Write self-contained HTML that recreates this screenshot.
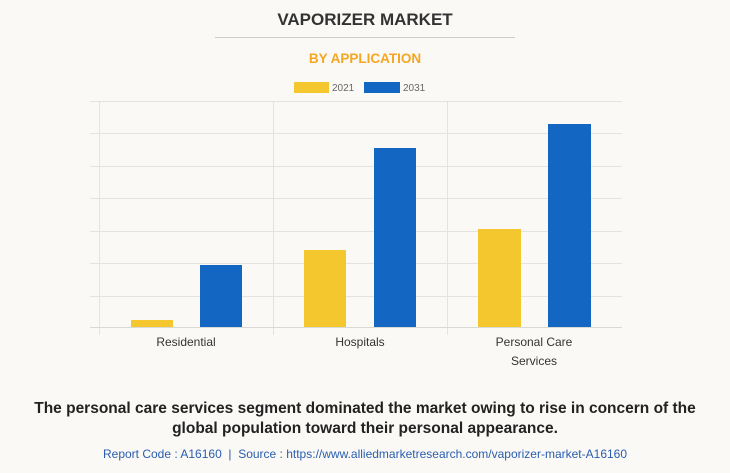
<!DOCTYPE html>
<html><head><style>
body{margin:0;width:730px;height:473px;background:#faf9f5;font-family:"Liberation Sans",Arial,sans-serif;overflow:hidden;position:relative}
.t{position:absolute;left:0;width:730px;text-align:center}
</style></head><body>
<div class="t" style="top:10px;font-size:17px;font-weight:bold;color:#333">VAPORIZER MARKET</div>
<div style="position:absolute;left:215px;top:37px;width:300px;height:1px;background:#ccc"></div>
<div class="t" style="top:51px;font-size:13.5px;font-weight:bold;color:#f5a623">BY APPLICATION</div>
<svg width="730" height="473" style="position:absolute;left:0;top:0" font-family="Liberation Sans, Arial, sans-serif">
<rect x="294" y="82" width="35" height="11" fill="#f4c72f"/>
<text x="332" y="91" font-size="10" fill="#666">2021</text>
<rect x="364" y="82" width="36" height="11" fill="#1366c2"/>
<text x="403" y="91" font-size="10" fill="#666">2031</text>
<g stroke="#e3e3e0" stroke-width="1">
<line x1="90" y1="101.5" x2="622" y2="101.5"/>
<line x1="90" y1="133.5" x2="622" y2="133.5"/>
<line x1="90" y1="166.5" x2="622" y2="166.5"/>
<line x1="90" y1="198.5" x2="622" y2="198.5"/>
<line x1="90" y1="231.5" x2="622" y2="231.5"/>
<line x1="90" y1="263.5" x2="622" y2="263.5"/>
<line x1="90" y1="296.5" x2="622" y2="296.5"/>
<line x1="99.5" y1="101" x2="99.5" y2="335"/>
<line x1="273.5" y1="101" x2="273.5" y2="335"/>
<line x1="447.5" y1="101" x2="447.5" y2="335"/>
</g>
<rect x="131" y="320" width="42" height="7" fill="#f4c72f"/>
<rect x="200" y="265" width="42" height="62" fill="#1366c2"/>
<rect x="304" y="250" width="42" height="77" fill="#f4c72f"/>
<rect x="374" y="148" width="42" height="179" fill="#1366c2"/>
<rect x="478" y="229" width="43" height="98" fill="#f4c72f"/>
<rect x="548" y="124" width="43" height="203" fill="#1366c2"/>
<line x1="90" y1="327.5" x2="622" y2="327.5" stroke="#d8d8d5"/>
<g font-size="12" fill="#333" text-anchor="middle">
<text x="186" y="346">Residential</text>
<text x="360" y="346">Hospitals</text>
<text x="534" y="346">Personal Care</text>
<text x="534" y="365">Services</text>
</g>
</svg>
<div class="t" style="top:399px;font-size:15.5px;font-weight:bold;color:#222;line-height:20px">The personal care services segment dominated the market owing to rise in concern of the<br>global population toward their personal appearance.</div>
<div class="t" style="top:447px;font-size:12px;color:#2a5db0">Report Code : A16160 &nbsp;|&nbsp; Source : https://www.alliedmarketresearch.com/vaporizer-market-A16160</div>
</body></html>
